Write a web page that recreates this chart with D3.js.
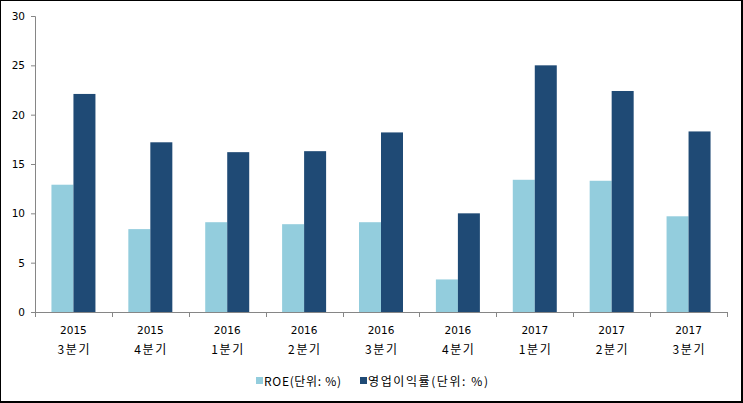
<!DOCTYPE html>
<html><head><meta charset="utf-8">
<script src="https://cdn.jsdelivr.net/npm/d3@7"></script>
<style>
html,body{margin:0;padding:0;background:#fff;}
svg{display:block;}
text{font-family:"Noto Sans CJK KR","Noto Sans",sans-serif;font-size:12px;fill:#000;}
</style></head>
<body>
<svg id="chart" width="743" height="403"></svg>
<script>
const years = ["2015","2015","2016","2016","2016","2016","2017","2017","2017"];
const quarters = ["3분기","4분기","1분기","2분기","3분기","4분기","1분기","2분기","3분기"];
const roe = [12.9, 8.4, 9.1, 8.9, 9.1, 3.3, 13.4, 13.3, 9.7];
const opMargin = [22.1, 17.2, 16.2, 16.3, 18.2, 10.0, 25.0, 22.4, 18.3];
const seriesNames = ["ROE(단위: %)", "영업이익률(단위: %)"];
const colors = ["#93CDDD", "#1F4A75"];
const yTicks = [0,5,10,15,20,25,30];

(function(){
const svg = d3.select("#chart");
const W = 743, H = 403;
const numFont = '"DejaVu Sans","Liberation Sans",sans-serif';
svg.append("rect").attr("width",W).attr("height",H).attr("fill","#fff");

const mL = 35, mR = 727, mT = 16, mB = 312;
const idx = d3.range(years.length);
const x = d3.scaleBand().domain(idx).range([mL, mR]).paddingInner(0).paddingOuter(0);
const y = d3.scaleLinear().domain([0,30]).range([mB, mT]);
const inner = d3.scaleBand().domain([0,1]).range([0, 44]);

const groups = svg.append("g").selectAll("g").data(idx).join("g")
  .attr("transform", i => `translate(${x(i) + (x.bandwidth()-44)/2},0)`);
[roe, opMargin].forEach((arr, s) => {
  groups.append("rect")
    .attr("x", inner(s)).attr("width", inner.bandwidth())
    .attr("y", i => y(arr[i])).attr("height", i => y(0) - y(arr[i]))
    .attr("fill", colors[s]);
});

// y axis
const yAxis = svg.append("g").attr("transform", `translate(${mL},0)`)
  .call(d3.axisLeft(y).tickValues(yTicks).tickSize(4).tickPadding(6));
yAxis.select(".domain").attr("stroke","#868686");
yAxis.selectAll(".tick line").attr("stroke","#868686");
yAxis.selectAll("text").attr("fill","#000").style("font-size","10.5px")
  .style("font-family",numFont);

// x axis
const xAxisG = svg.append("g").attr("transform", `translate(0,${mB})`);
xAxisG.append("line").attr("x1",mL).attr("x2",mR).attr("y1",0.5).attr("y2",0.5).attr("stroke","#868686");
xAxisG.selectAll("line.tk").data(d3.range(years.length+1)).join("line").attr("class","tk")
  .attr("x1", i => Math.round(mL + i*x.bandwidth())+0.5)
  .attr("x2", i => Math.round(mL + i*x.bandwidth())+0.5)
  .attr("y1",0).attr("y2",5).attr("stroke","#868686");
xAxisG.selectAll("text.yr").data(idx).join("text").attr("class","yr")
  .attr("x", i => x(i)+x.bandwidth()/2).attr("y", 22).attr("text-anchor","middle")
  .style("font-family",numFont).style("font-size","10.5px")
  .text(i => years[i]);
xAxisG.selectAll("text.q").data(idx).join("text").attr("class","q")
  .attr("x", i => x(i)+x.bandwidth()/2).attr("y", 42).attr("text-anchor","middle")
  .attr("textLength", 32).attr("lengthAdjust","spacing")
  .text(i => quarters[i]);

// legend
const legX = [256, 360];
const legLen = [77, 120];
const leg = svg.append("g");
seriesNames.forEach((n, s) => {
  leg.append("rect").attr("x", legX[s]).attr("y", 377).attr("width",7).attr("height",7).attr("fill",colors[s]);
  leg.append("text").attr("x", legX[s]+8).attr("y", 386)
    .attr("textLength", legLen[s]).attr("lengthAdjust","spacing").text(n);
});

// border
svg.append("line").attr("x1",0.5).attr("x2",0.5).attr("y1",0).attr("y2",H).attr("stroke","#000");
svg.append("line").attr("x1",0).attr("x2",W).attr("y1",0.5).attr("y2",0.5).attr("stroke","#000");
svg.append("line").attr("x1",742).attr("x2",742).attr("y1",0).attr("y2",H).attr("stroke","#000").attr("stroke-width",2);
svg.append("line").attr("x1",0).attr("x2",W).attr("y1",402).attr("y2",402).attr("stroke","#000").attr("stroke-width",2);
})();
</script>
</body></html>
